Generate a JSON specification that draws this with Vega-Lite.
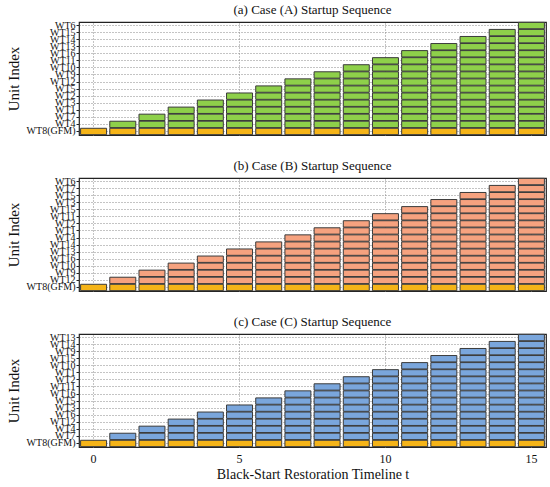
{
"$schema": "https://vega.github.io/schema/vega-lite/v6.json",
"background": "white",
"padding": {"left": 5, "top": 3, "right": 5, "bottom": 2},
"spacing": 22,
"config": {
  "font": "Liberation Serif",
  "view": {"stroke": "#222", "strokeWidth": 1.2},
  "title": {"font": "Liberation Serif", "fontSize": 13, "fontWeight": "normal", "color": "#111", "offset": 3},
  "axis": {"labelFont": "Liberation Serif", "titleFont": "Liberation Serif", "labelColor": "#111", "titleColor": "#111", "titleFontWeight": "normal"}
},
"datasets": {
"A": [
{"t":0,"u":"WT8(GFM)"},
{"t":1,"u":"WT8(GFM)"},{"t":1,"u":"WT4"},
{"t":2,"u":"WT8(GFM)"},{"t":2,"u":"WT4"},{"t":2,"u":"WT7"},
{"t":3,"u":"WT8(GFM)"},{"t":3,"u":"WT4"},{"t":3,"u":"WT7"},{"t":3,"u":"WT1"},
{"t":4,"u":"WT8(GFM)"},{"t":4,"u":"WT4"},{"t":4,"u":"WT7"},{"t":4,"u":"WT1"},{"t":4,"u":"WT3"},
{"t":5,"u":"WT8(GFM)"},{"t":5,"u":"WT4"},{"t":5,"u":"WT7"},{"t":5,"u":"WT1"},{"t":5,"u":"WT3"},{"t":5,"u":"WT2"},
{"t":6,"u":"WT8(GFM)"},{"t":6,"u":"WT4"},{"t":6,"u":"WT7"},{"t":6,"u":"WT1"},{"t":6,"u":"WT3"},{"t":6,"u":"WT2"},{"t":6,"u":"WT5"},
{"t":7,"u":"WT8(GFM)"},{"t":7,"u":"WT4"},{"t":7,"u":"WT7"},{"t":7,"u":"WT1"},{"t":7,"u":"WT3"},{"t":7,"u":"WT2"},{"t":7,"u":"WT5"},{"t":7,"u":"WT12"},
{"t":8,"u":"WT8(GFM)"},{"t":8,"u":"WT4"},{"t":8,"u":"WT7"},{"t":8,"u":"WT1"},{"t":8,"u":"WT3"},{"t":8,"u":"WT2"},{"t":8,"u":"WT5"},{"t":8,"u":"WT12"},{"t":8,"u":"WT9"},
{"t":9,"u":"WT8(GFM)"},{"t":9,"u":"WT4"},{"t":9,"u":"WT7"},{"t":9,"u":"WT1"},{"t":9,"u":"WT3"},{"t":9,"u":"WT2"},{"t":9,"u":"WT5"},{"t":9,"u":"WT12"},{"t":9,"u":"WT9"},{"t":9,"u":"WT10"},
{"t":10,"u":"WT8(GFM)"},{"t":10,"u":"WT4"},{"t":10,"u":"WT7"},{"t":10,"u":"WT1"},{"t":10,"u":"WT3"},{"t":10,"u":"WT2"},{"t":10,"u":"WT5"},{"t":10,"u":"WT12"},{"t":10,"u":"WT9"},{"t":10,"u":"WT10"},{"t":10,"u":"WT11"},
{"t":11,"u":"WT8(GFM)"},{"t":11,"u":"WT4"},{"t":11,"u":"WT7"},{"t":11,"u":"WT1"},{"t":11,"u":"WT3"},{"t":11,"u":"WT2"},{"t":11,"u":"WT5"},{"t":11,"u":"WT12"},{"t":11,"u":"WT9"},{"t":11,"u":"WT10"},{"t":11,"u":"WT11"},{"t":11,"u":"WT16"},
{"t":12,"u":"WT8(GFM)"},{"t":12,"u":"WT4"},{"t":12,"u":"WT7"},{"t":12,"u":"WT1"},{"t":12,"u":"WT3"},{"t":12,"u":"WT2"},{"t":12,"u":"WT5"},{"t":12,"u":"WT12"},{"t":12,"u":"WT9"},{"t":12,"u":"WT10"},{"t":12,"u":"WT11"},{"t":12,"u":"WT16"},{"t":12,"u":"WT13"},
{"t":13,"u":"WT8(GFM)"},{"t":13,"u":"WT4"},{"t":13,"u":"WT7"},{"t":13,"u":"WT1"},{"t":13,"u":"WT3"},{"t":13,"u":"WT2"},{"t":13,"u":"WT5"},{"t":13,"u":"WT12"},{"t":13,"u":"WT9"},{"t":13,"u":"WT10"},{"t":13,"u":"WT11"},{"t":13,"u":"WT16"},{"t":13,"u":"WT13"},{"t":13,"u":"WT14"},
{"t":14,"u":"WT8(GFM)"},{"t":14,"u":"WT4"},{"t":14,"u":"WT7"},{"t":14,"u":"WT1"},{"t":14,"u":"WT3"},{"t":14,"u":"WT2"},{"t":14,"u":"WT5"},{"t":14,"u":"WT12"},{"t":14,"u":"WT9"},{"t":14,"u":"WT10"},{"t":14,"u":"WT11"},{"t":14,"u":"WT16"},{"t":14,"u":"WT13"},{"t":14,"u":"WT14"},{"t":14,"u":"WT15"},
{"t":15,"u":"WT8(GFM)"},{"t":15,"u":"WT4"},{"t":15,"u":"WT7"},{"t":15,"u":"WT1"},{"t":15,"u":"WT3"},{"t":15,"u":"WT2"},{"t":15,"u":"WT5"},{"t":15,"u":"WT12"},{"t":15,"u":"WT9"},{"t":15,"u":"WT10"},{"t":15,"u":"WT11"},{"t":15,"u":"WT16"},{"t":15,"u":"WT13"},{"t":15,"u":"WT14"},{"t":15,"u":"WT15"},{"t":15,"u":"WT6"}
],
"B": [
{"t":0,"u":"WT8(GFM)"},
{"t":1,"u":"WT8(GFM)"},{"t":1,"u":"WT12"},
{"t":2,"u":"WT8(GFM)"},{"t":2,"u":"WT12"},{"t":2,"u":"WT9"},
{"t":3,"u":"WT8(GFM)"},{"t":3,"u":"WT12"},{"t":3,"u":"WT9"},{"t":3,"u":"WT10"},
{"t":4,"u":"WT8(GFM)"},{"t":4,"u":"WT12"},{"t":4,"u":"WT9"},{"t":4,"u":"WT10"},{"t":4,"u":"WT16"},
{"t":5,"u":"WT8(GFM)"},{"t":5,"u":"WT12"},{"t":5,"u":"WT9"},{"t":5,"u":"WT10"},{"t":5,"u":"WT16"},{"t":5,"u":"WT13"},
{"t":6,"u":"WT8(GFM)"},{"t":6,"u":"WT12"},{"t":6,"u":"WT9"},{"t":6,"u":"WT10"},{"t":6,"u":"WT16"},{"t":6,"u":"WT13"},{"t":6,"u":"WT14"},
{"t":7,"u":"WT8(GFM)"},{"t":7,"u":"WT12"},{"t":7,"u":"WT9"},{"t":7,"u":"WT10"},{"t":7,"u":"WT16"},{"t":7,"u":"WT13"},{"t":7,"u":"WT14"},{"t":7,"u":"WT4"},
{"t":8,"u":"WT8(GFM)"},{"t":8,"u":"WT12"},{"t":8,"u":"WT9"},{"t":8,"u":"WT10"},{"t":8,"u":"WT16"},{"t":8,"u":"WT13"},{"t":8,"u":"WT14"},{"t":8,"u":"WT4"},{"t":8,"u":"WT1"},
{"t":9,"u":"WT8(GFM)"},{"t":9,"u":"WT12"},{"t":9,"u":"WT9"},{"t":9,"u":"WT10"},{"t":9,"u":"WT16"},{"t":9,"u":"WT13"},{"t":9,"u":"WT14"},{"t":9,"u":"WT4"},{"t":9,"u":"WT1"},{"t":9,"u":"WT2"},
{"t":10,"u":"WT8(GFM)"},{"t":10,"u":"WT12"},{"t":10,"u":"WT9"},{"t":10,"u":"WT10"},{"t":10,"u":"WT16"},{"t":10,"u":"WT13"},{"t":10,"u":"WT14"},{"t":10,"u":"WT4"},{"t":10,"u":"WT1"},{"t":10,"u":"WT2"},{"t":10,"u":"WT11"},
{"t":11,"u":"WT8(GFM)"},{"t":11,"u":"WT12"},{"t":11,"u":"WT9"},{"t":11,"u":"WT10"},{"t":11,"u":"WT16"},{"t":11,"u":"WT13"},{"t":11,"u":"WT14"},{"t":11,"u":"WT4"},{"t":11,"u":"WT1"},{"t":11,"u":"WT2"},{"t":11,"u":"WT11"},{"t":11,"u":"WT15"},
{"t":12,"u":"WT8(GFM)"},{"t":12,"u":"WT12"},{"t":12,"u":"WT9"},{"t":12,"u":"WT10"},{"t":12,"u":"WT16"},{"t":12,"u":"WT13"},{"t":12,"u":"WT14"},{"t":12,"u":"WT4"},{"t":12,"u":"WT1"},{"t":12,"u":"WT2"},{"t":12,"u":"WT11"},{"t":12,"u":"WT15"},{"t":12,"u":"WT3"},
{"t":13,"u":"WT8(GFM)"},{"t":13,"u":"WT12"},{"t":13,"u":"WT9"},{"t":13,"u":"WT10"},{"t":13,"u":"WT16"},{"t":13,"u":"WT13"},{"t":13,"u":"WT14"},{"t":13,"u":"WT4"},{"t":13,"u":"WT1"},{"t":13,"u":"WT2"},{"t":13,"u":"WT11"},{"t":13,"u":"WT15"},{"t":13,"u":"WT3"},{"t":13,"u":"WT5"},
{"t":14,"u":"WT8(GFM)"},{"t":14,"u":"WT12"},{"t":14,"u":"WT9"},{"t":14,"u":"WT10"},{"t":14,"u":"WT16"},{"t":14,"u":"WT13"},{"t":14,"u":"WT14"},{"t":14,"u":"WT4"},{"t":14,"u":"WT1"},{"t":14,"u":"WT2"},{"t":14,"u":"WT11"},{"t":14,"u":"WT15"},{"t":14,"u":"WT3"},{"t":14,"u":"WT5"},{"t":14,"u":"WT7"},
{"t":15,"u":"WT8(GFM)"},{"t":15,"u":"WT12"},{"t":15,"u":"WT9"},{"t":15,"u":"WT10"},{"t":15,"u":"WT16"},{"t":15,"u":"WT13"},{"t":15,"u":"WT14"},{"t":15,"u":"WT4"},{"t":15,"u":"WT1"},{"t":15,"u":"WT2"},{"t":15,"u":"WT11"},{"t":15,"u":"WT15"},{"t":15,"u":"WT3"},{"t":15,"u":"WT5"},{"t":15,"u":"WT7"},{"t":15,"u":"WT6"}
],
"C": [
{"t":0,"u":"WT8(GFM)"},
{"t":1,"u":"WT8(GFM)"},{"t":1,"u":"WT7"},
{"t":2,"u":"WT8(GFM)"},{"t":2,"u":"WT7"},{"t":2,"u":"WT4"},
{"t":3,"u":"WT8(GFM)"},{"t":3,"u":"WT7"},{"t":3,"u":"WT4"},{"t":3,"u":"WT12"},
{"t":4,"u":"WT8(GFM)"},{"t":4,"u":"WT7"},{"t":4,"u":"WT4"},{"t":4,"u":"WT12"},{"t":4,"u":"WT6"},
{"t":5,"u":"WT8(GFM)"},{"t":5,"u":"WT7"},{"t":5,"u":"WT4"},{"t":5,"u":"WT12"},{"t":5,"u":"WT6"},{"t":5,"u":"WT3"},
{"t":6,"u":"WT8(GFM)"},{"t":6,"u":"WT7"},{"t":6,"u":"WT4"},{"t":6,"u":"WT12"},{"t":6,"u":"WT6"},{"t":6,"u":"WT3"},{"t":6,"u":"WT5"},
{"t":7,"u":"WT8(GFM)"},{"t":7,"u":"WT7"},{"t":7,"u":"WT4"},{"t":7,"u":"WT12"},{"t":7,"u":"WT6"},{"t":7,"u":"WT3"},{"t":7,"u":"WT5"},{"t":7,"u":"WT16"},
{"t":8,"u":"WT8(GFM)"},{"t":8,"u":"WT7"},{"t":8,"u":"WT4"},{"t":8,"u":"WT12"},{"t":8,"u":"WT6"},{"t":8,"u":"WT3"},{"t":8,"u":"WT5"},{"t":8,"u":"WT16"},{"t":8,"u":"WT11"},
{"t":9,"u":"WT8(GFM)"},{"t":9,"u":"WT7"},{"t":9,"u":"WT4"},{"t":9,"u":"WT12"},{"t":9,"u":"WT6"},{"t":9,"u":"WT3"},{"t":9,"u":"WT5"},{"t":9,"u":"WT16"},{"t":9,"u":"WT11"},{"t":9,"u":"WT2"},
{"t":10,"u":"WT8(GFM)"},{"t":10,"u":"WT7"},{"t":10,"u":"WT4"},{"t":10,"u":"WT12"},{"t":10,"u":"WT6"},{"t":10,"u":"WT3"},{"t":10,"u":"WT5"},{"t":10,"u":"WT16"},{"t":10,"u":"WT11"},{"t":10,"u":"WT2"},{"t":10,"u":"WT1"},
{"t":11,"u":"WT8(GFM)"},{"t":11,"u":"WT7"},{"t":11,"u":"WT4"},{"t":11,"u":"WT12"},{"t":11,"u":"WT6"},{"t":11,"u":"WT3"},{"t":11,"u":"WT5"},{"t":11,"u":"WT16"},{"t":11,"u":"WT11"},{"t":11,"u":"WT2"},{"t":11,"u":"WT1"},{"t":11,"u":"WT10"},
{"t":12,"u":"WT8(GFM)"},{"t":12,"u":"WT7"},{"t":12,"u":"WT4"},{"t":12,"u":"WT12"},{"t":12,"u":"WT6"},{"t":12,"u":"WT3"},{"t":12,"u":"WT5"},{"t":12,"u":"WT16"},{"t":12,"u":"WT11"},{"t":12,"u":"WT2"},{"t":12,"u":"WT1"},{"t":12,"u":"WT10"},{"t":12,"u":"WT15"},
{"t":13,"u":"WT8(GFM)"},{"t":13,"u":"WT7"},{"t":13,"u":"WT4"},{"t":13,"u":"WT12"},{"t":13,"u":"WT6"},{"t":13,"u":"WT3"},{"t":13,"u":"WT5"},{"t":13,"u":"WT16"},{"t":13,"u":"WT11"},{"t":13,"u":"WT2"},{"t":13,"u":"WT1"},{"t":13,"u":"WT10"},{"t":13,"u":"WT15"},{"t":13,"u":"WT9"},
{"t":14,"u":"WT8(GFM)"},{"t":14,"u":"WT7"},{"t":14,"u":"WT4"},{"t":14,"u":"WT12"},{"t":14,"u":"WT6"},{"t":14,"u":"WT3"},{"t":14,"u":"WT5"},{"t":14,"u":"WT16"},{"t":14,"u":"WT11"},{"t":14,"u":"WT2"},{"t":14,"u":"WT1"},{"t":14,"u":"WT10"},{"t":14,"u":"WT15"},{"t":14,"u":"WT9"},{"t":14,"u":"WT14"},
{"t":15,"u":"WT8(GFM)"},{"t":15,"u":"WT7"},{"t":15,"u":"WT4"},{"t":15,"u":"WT12"},{"t":15,"u":"WT6"},{"t":15,"u":"WT3"},{"t":15,"u":"WT5"},{"t":15,"u":"WT16"},{"t":15,"u":"WT11"},{"t":15,"u":"WT2"},{"t":15,"u":"WT1"},{"t":15,"u":"WT10"},{"t":15,"u":"WT15"},{"t":15,"u":"WT9"},{"t":15,"u":"WT14"},{"t":15,"u":"WT13"}
]
},
"vconcat": [
{
  "width": 467, "height": 113,
  "title": "(a) Case (A) Startup Sequence",
  "data": {"name": "A"},
  "mark": {"type": "bar", "stroke": "#3a3a3a", "strokeWidth": 1},
  "encoding": {
    "x": {"field": "t", "type": "ordinal", "scale": {"paddingInner": 0.11, "paddingOuter": 0.055},
          "axis": {"values": [0, 5, 10, 15], "labels": false, "ticks": false, "domain": false, "title": null, "grid": true, "bandPosition": 0.5, "gridDash": [1, 2], "gridColor": "#888", "gridOpacity": 1}},
    "y": {"field": "u", "type": "nominal",
          "sort": ["WT6","WT15","WT14","WT13","WT16","WT11","WT10","WT9","WT12","WT5","WT2","WT3","WT1","WT7","WT4","WT8(GFM)"],
          "scale": {"paddingInner": 0.1, "paddingOuter": 0.05},
          "axis": {"title": "Unit Index", "titleFontSize": 15, "titlePadding": 5, "labelFontSize": 10, "labelOverlap": false, "tickSize": 3, "tickColor": "#222", "labelPadding": 1, "domain": false, "grid": true, "bandPosition": 0.5, "gridDash": [1, 2], "gridColor": "#888", "gridOpacity": 1}},
    "color": {"condition": {"test": "datum.u === 'WT8(GFM)'", "value": "#f5b418"}, "value": "#8ed04a"}
  }
},
{
  "width": 467, "height": 113,
  "title": "(b) Case (B) Startup Sequence",
  "data": {"name": "B"},
  "mark": {"type": "bar", "stroke": "#3a3a3a", "strokeWidth": 1},
  "encoding": {
    "x": {"field": "t", "type": "ordinal", "scale": {"paddingInner": 0.11, "paddingOuter": 0.055},
          "axis": {"values": [0, 5, 10, 15], "labels": false, "ticks": false, "domain": false, "title": null, "grid": true, "bandPosition": 0.5, "gridDash": [1, 2], "gridColor": "#888", "gridOpacity": 1}},
    "y": {"field": "u", "type": "nominal",
          "sort": ["WT6","WT7","WT5","WT3","WT15","WT11","WT2","WT1","WT4","WT14","WT13","WT16","WT10","WT9","WT12","WT8(GFM)"],
          "scale": {"paddingInner": 0.1, "paddingOuter": 0.05},
          "axis": {"title": "Unit Index", "titleFontSize": 15, "titlePadding": 5, "labelFontSize": 10, "labelOverlap": false, "tickSize": 3, "tickColor": "#222", "labelPadding": 1, "domain": false, "grid": true, "bandPosition": 0.5, "gridDash": [1, 2], "gridColor": "#888", "gridOpacity": 1}},
    "color": {"condition": {"test": "datum.u === 'WT8(GFM)'", "value": "#f5b418"}, "value": "#f6a27f"}
  }
},
{
  "width": 467, "height": 113,
  "title": "(c) Case (C) Startup Sequence",
  "data": {"name": "C"},
  "mark": {"type": "bar", "stroke": "#3a3a3a", "strokeWidth": 1},
  "encoding": {
    "x": {"field": "t", "type": "ordinal", "scale": {"paddingInner": 0.11, "paddingOuter": 0.055},
          "axis": {"values": [0, 5, 10, 15], "labelFontSize": 12, "labelAngle": 0, "ticks": false, "domain": false, "labelPadding": 6, "title": "Black-Start Restoration Timeline t", "titleFontSize": 14, "titlePadding": 3, "grid": true, "bandPosition": 0.5, "gridDash": [1, 2], "gridColor": "#888", "gridOpacity": 1}},
    "y": {"field": "u", "type": "nominal",
          "sort": ["WT13","WT14","WT9","WT15","WT10","WT1","WT2","WT11","WT16","WT5","WT3","WT6","WT12","WT4","WT7","WT8(GFM)"],
          "scale": {"paddingInner": 0.1, "paddingOuter": 0.05},
          "axis": {"title": "Unit Index", "titleFontSize": 15, "titlePadding": 5, "labelFontSize": 10, "labelOverlap": false, "tickSize": 3, "tickColor": "#222", "labelPadding": 1, "domain": false, "grid": true, "bandPosition": 0.5, "gridDash": [1, 2], "gridColor": "#888", "gridOpacity": 1}},
    "color": {"condition": {"test": "datum.u === 'WT8(GFM)'", "value": "#f5b418"}, "value": "#7aa6dc"}
  }
}
]
}
